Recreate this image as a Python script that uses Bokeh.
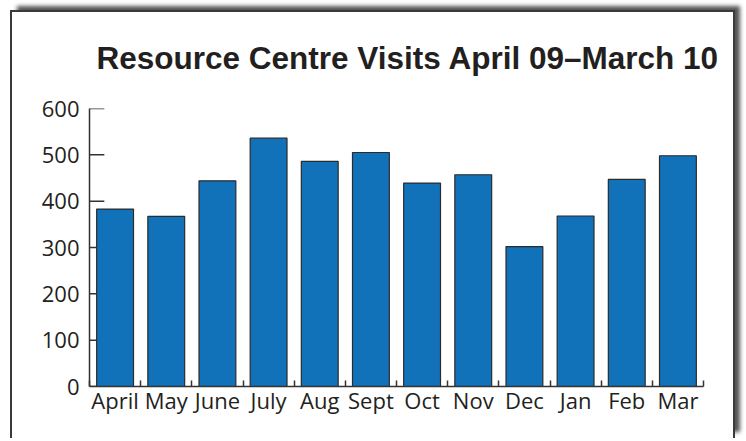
from bokeh.plotting import figure
from bokeh.models import Range1d, FixedTicker, Title
from bokeh.embed import file_html
from bokeh.resources import INLINE

months = ["April", "May", "June", "July", "Aug", "Sept", "Oct", "Nov", "Dec", "Jan", "Feb", "Mar"]
visits = [383, 367, 444, 536, 486, 505, 439, 457, 302, 368, 447, 498]
y_ticks = [0, 100, 200, 300, 400, 500, 600]
title_text = "Resource Centre Visits April 09\u2013March 10"

xs = [i + 0.5 for i in range(len(months))]

p = figure(width=725, height=428, output_backend="svg", toolbar_location=None,
           x_range=Range1d(0, len(months)), y_range=Range1d(0, 600),
           min_border_left=77, min_border_right=34, min_border_top=96, min_border_bottom=54)
p.title_location = None
p.styles = {"border": "2px solid #3a3a3a", "border-bottom": "none",
            "box-shadow": "6px -5px 4px -1px #555555", "margin-left": "10px", "margin-top": "10px"}

# spacer panel between the frame and the title
p.add_layout(Title(text=" ", text_font_size="10px", standoff=20), "above")
p.add_layout(Title(text=title_text, text_font="Liberation Sans", text_font_style="bold",
                   text_font_size="31.5px", text_color="#231F20", align="left",
                   offset=7, standoff=0), "above")

p.xgrid.visible = False
p.ygrid.visible = False
p.outline_line_color = None
p.background_fill_color = "white"
p.border_fill_color = "white"

# inward y ticks drawn beneath the bars
p.segment(x0=0, x1=0.29, y0=y_ticks, y1=y_ticks, line_color="#333333", line_width=1.5)

p.vbar(x=xs, top=visits, width=0.72, bottom=0,
       fill_color="#1172BA", line_color="#2b2b2b", line_width=1.2)

# y axis
ya = p.yaxis[0]
ya.ticker = FixedTicker(ticks=y_ticks, minor_ticks=[])
ya.major_tick_in = 0
ya.major_tick_out = 0
ya.major_tick_line_color = None
ya.minor_tick_line_color = None
ya.axis_line_width = 1.5
ya.axis_line_color = "#333333"
ya.major_label_text_font = "Open Sans"
ya.major_label_text_font_size = "22px"
ya.major_label_text_color = "#231F20"
ya.major_label_standoff = 10

# x axis
xa = p.xaxis[0]
xa.ticker = FixedTicker(ticks=xs, minor_ticks=list(range(len(months) + 1)))
xa.major_label_overrides = {x: m for x, m in zip(xs, months)}
xa.major_tick_in = 0
xa.major_tick_out = 0
xa.major_tick_line_color = None
xa.minor_tick_in = 6
xa.minor_tick_out = 0
xa.minor_tick_line_width = 1.5
xa.minor_tick_line_color = "#333333"
xa.axis_line_width = 1.5
xa.axis_line_color = "#333333"
xa.major_label_text_font = "Open Sans"
xa.major_label_text_font_size = "22px"
xa.major_label_text_color = "#231F20"
xa.major_label_standoff = -2

open("out.html", "w").write(file_html(p, INLINE))
